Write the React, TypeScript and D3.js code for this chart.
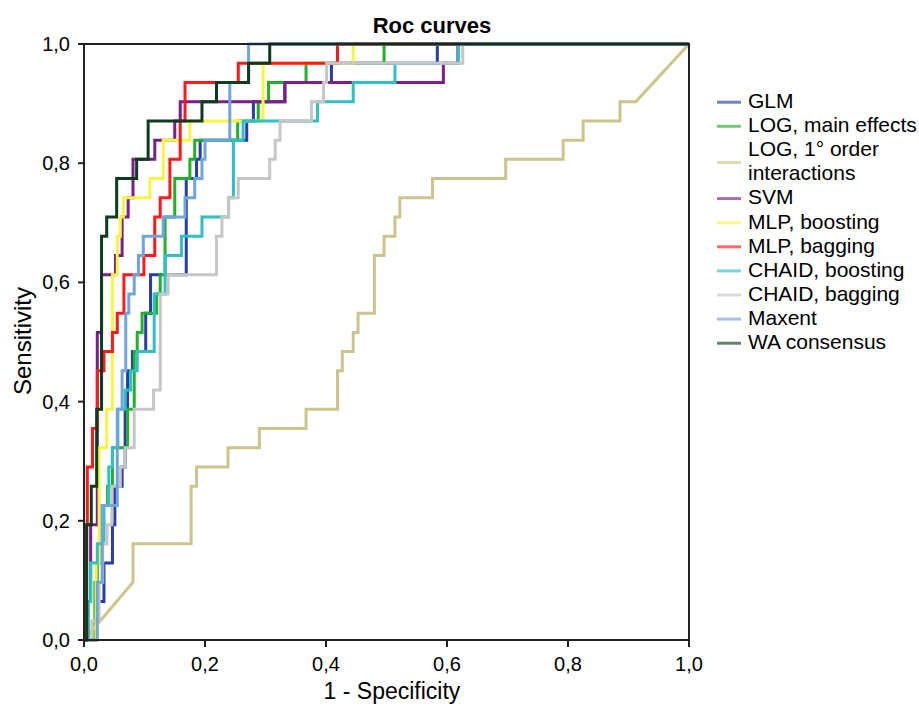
import React from "react";
import * as d3 from "d3";

const POSITIVES = 31;

const seriesNames = [
  "GLM",
  "LOG, main effects",
  "LOG, 1° order interactions",
  "SVM",
  "MLP, boosting",
  "MLP, bagging",
  "CHAID, boosting",
  "CHAID, bagging",
  "Maxent",
  "WA consensus",
];
const legendLines = [
  ["GLM"],
  ["LOG, main effects"],
  ["LOG, 1° order", "interactions"],
  ["SVM"],
  ["MLP, boosting"],
  ["MLP, bagging"],
  ["CHAID, boosting"],
  ["CHAID, bagging"],
  ["Maxent"],
  ["WA consensus"],
];
const seriesColors = [
  "#2a3ca8",
  "#22b02a",
  "#ccc48a",
  "#7a1e8c",
  "#f6f642",
  "#ff1a1a",
  "#2ec0c4",
  "#c6c6c6",
  "#6fa5dc",
  "#0b3d1c",
];

// Step ROC curves: 1-specificity where the curve rises, and number of presences (of 31) reached
const glmFpr = [0.02, 0.033, 0.047, 0.051, 0.063, 0.068, 0.072, 0.08, 0.102, 0.11, 0.169, 0.186, 0.192, 0.269, 0.28, 0.332, 0.409, 0.584];
const glmHits = [2, 4, 6, 8, 9, 12, 14, 15, 17, 19, 24, 25, 26, 27, 28, 29, 30, 31];

const logMainFpr = [0.018, 0.022, 0.03, 0.039, 0.047, 0.072, 0.083, 0.088, 0.096, 0.12, 0.126, 0.134, 0.15, 0.175, 0.183, 0.254, 0.288, 0.305, 0.367, 0.496];
const logMainHits = [3, 4, 7, 8, 10, 12, 15, 16, 17, 18, 19, 22, 24, 25, 26, 27, 28, 29, 30, 31];

// LOG 1° order interactions: ROC coordinates (with tied segments)
const logIntFpr = [0, 0.081, 0.081, 0.177, 0.177, 0.186, 0.186, 0.238, 0.238, 0.29, 0.29, 0.367, 0.367, 0.419, 0.419, 0.427, 0.427, 0.445, 0.445, 0.453, 0.453, 0.48, 0.48, 0.496, 0.496, 0.514, 0.514, 0.522, 0.522, 0.576, 0.576, 0.697, 0.697, 0.792, 0.792, 0.825, 0.825, 0.886, 0.886, 0.912, 1];
const logIntHits = [0, 3, 5, 5, 8, 8, 9, 9, 10, 10, 11, 11, 12, 12, 14, 14, 15, 15, 16, 16, 17, 17, 20, 20, 21, 21, 22, 22, 23, 23, 24, 24, 25, 25, 26, 26, 27, 27, 28, 28, 31];

const svmFpr = [0.0066, 0.011, 0.022, 0.029, 0.052, 0.063, 0.073, 0.081, 0.117, 0.15, 0.159, 0.332, 0.594, 0.618];
const svmHits = [2, 6, 16, 19, 20, 22, 23, 25, 26, 27, 28, 29, 30, 31];

const mlpBoostFpr = [0.02, 0.025, 0.0375, 0.047, 0.055, 0.06, 0.065, 0.109, 0.131, 0.175, 0.296, 0.445];
const mlpBoostHits = [4, 10, 12, 19, 21, 22, 23, 24, 26, 27, 30, 31];

const mlpBagFpr = [0.002, 0.0055, 0.014, 0.022, 0.033, 0.047, 0.055, 0.066, 0.099, 0.117, 0.126, 0.142, 0.159, 0.167, 0.255, 0.419];
const mlpBagHits = [6, 9, 11, 14, 15, 16, 17, 19, 20, 22, 23, 25, 27, 29, 30, 31];

const chaidBoostFpr = [0.0066, 0.011, 0.022, 0.033, 0.041, 0.047, 0.056, 0.068, 0.077, 0.088, 0.116, 0.134, 0.161, 0.195, 0.239, 0.247, 0.263, 0.386, 0.445, 0.514, 0.619];
const chaidBoostHits = [2, 4, 5, 7, 9, 10, 12, 13, 14, 15, 18, 20, 21, 22, 23, 26, 27, 28, 29, 30, 31];

const chaidBagFpr = [0.013, 0.025, 0.031, 0.038, 0.046, 0.06, 0.068, 0.083, 0.115, 0.126, 0.139, 0.219, 0.228, 0.239, 0.255, 0.307, 0.316, 0.324, 0.376, 0.396, 0.401, 0.626];
const chaidBagHits = [1, 3, 5, 6, 8, 9, 10, 12, 13, 18, 19, 21, 22, 23, 24, 25, 26, 27, 28, 29, 30, 31];

const maxentFpr = [0.022, 0.03, 0.055, 0.063, 0.069, 0.074, 0.083, 0.09, 0.098, 0.131, 0.167, 0.183, 0.195, 0.2, 0.241, 0.272];
const maxentHits = [3, 7, 12, 14, 17, 18, 19, 20, 21, 22, 23, 24, 25, 26, 29, 31];

const waFpr = [0.0045, 0.012, 0.021, 0.029, 0.0375, 0.054, 0.087, 0.106, 0.195, 0.219, 0.272, 0.307];
const waHits = [6, 8, 12, 21, 22, 24, 25, 27, 28, 29, 30, 31];

const xTicks = [0, 0.2, 0.4, 0.6, 0.8, 1.0];
const yTicks = [0, 0.2, 0.4, 0.6, 0.8, 1.0];

function stepPoints(fpr: number[], hits: number[]): [number, number][] {
  const pts: [number, number][] = [[0, 0]];
  let prev = 0;
  fpr.forEach((f, i) => {
    pts.push([f, prev / POSITIVES]);
    pts.push([f, hits[i] / POSITIVES]);
    prev = hits[i];
  });
  pts.push([1, prev / POSITIVES]);
  return pts;
}

function linePoints(fpr: number[], hits: number[]): [number, number][] {
  return fpr.map((f, i) => [f, hits[i] / POSITIVES] as [number, number]);
}

const W = 919;
const H = 706;
const FONT = "Liberation Sans, Arial, Helvetica, sans-serif";

export default function App() {
  const x = d3.scaleLinear().domain([0, 1]).range([84, 689]);
  const y = d3.scaleLinear().domain([0, 1]).range([640, 44]);
  const line = d3
    .line<[number, number]>()
    .x((d) => x(d[0]))
    .y((d) => y(d[1]))
    .curve(d3.curveLinear);

  const series: [number, number][][] = [
    stepPoints(glmFpr, glmHits),
    stepPoints(logMainFpr, logMainHits),
    linePoints(logIntFpr, logIntHits),
    stepPoints(svmFpr, svmHits),
    stepPoints(mlpBoostFpr, mlpBoostHits),
    stepPoints(mlpBagFpr, mlpBagHits),
    stepPoints(chaidBoostFpr, chaidBoostHits),
    stepPoints(chaidBagFpr, chaidBagHits),
    stepPoints(maxentFpr, maxentHits),
    stepPoints(waFpr, waHits),
  ];

  const fmt = (v: number) => d3.format(".1f")(v).replace(".", ",");

  const rowH = 24.1;
  const legendTop = 100.7;
  let row = 0;
  const legendItems = legendLines.map((lines, i) => {
    const startRow = row;
    row += lines.length;
    const swatchY = legendTop + ((startRow + row - 1) / 2) * rowH + 1.5;
    return { lines, startRow, swatchY, color: seriesColors[i], name: seriesNames[i] };
  });

  return (
    <div style={{ position: "absolute", left: 0, top: 0 }}>
      <svg width={W} height={H} style={{ display: "block", background: "#fff" }} fontFamily={FONT}>
        <rect x={0} y={0} width={W} height={H} fill="#fff" />
        <text x={432} y={33} textAnchor="middle" fontSize={22} fontWeight="bold" fill="#000">
          Roc curves
        </text>

        <g>
          {series.map((pts, i) => (
            <path
              key={seriesNames[i]}
              d={line(pts) || ""}
              fill="none"
              stroke={seriesColors[i]}
              strokeWidth={3}
              strokeLinejoin="miter"
            />
          ))}
        </g>

        <rect x={84} y={44} width={605} height={596} fill="none" stroke="#222" strokeWidth={2} />

        {xTicks.map((t) => (
          <g key={"x" + t}>
            <line x1={x(t)} x2={x(t)} y1={640} y2={647} stroke="#222" strokeWidth={2} />
            <text x={x(t)} y={671} textAnchor="middle" fontSize={20} fill="#000">
              {fmt(t)}
            </text>
          </g>
        ))}
        {yTicks.map((t) => (
          <g key={"y" + t}>
            <line x1={78} x2={84} y1={y(t)} y2={y(t)} stroke="#222" strokeWidth={2} />
            <text x={70} y={y(t)} dy="0.35em" textAnchor="end" fontSize={20} fill="#000">
              {fmt(t)}
            </text>
          </g>
        ))}

        <text x={392} y={699} textAnchor="middle" fontSize={23} fill="#000">
          1 - Specificity
        </text>
        <text
          transform="translate(31,341) rotate(-90)"
          textAnchor="middle"
          fontSize={24}
          fill="#000"
        >
          Sensitivity
        </text>

        <g>
          {legendItems.map((it) => (
            <g key={it.name}>
              <line
                x1={717}
                x2={741}
                y1={it.swatchY}
                y2={it.swatchY}
                stroke={it.color}
                strokeWidth={3}
                strokeOpacity={0.65}
              />
              {it.lines.map((ln, j) => (
                <text
                  key={j}
                  x={748}
                  y={legendTop + (it.startRow + j) * rowH}
                  dy="0.35em"
                  fontSize={21}
                  fill="#000"
                >
                  {ln}
                </text>
              ))}
            </g>
          ))}
        </g>
      </svg>
    </div>
  );
}
